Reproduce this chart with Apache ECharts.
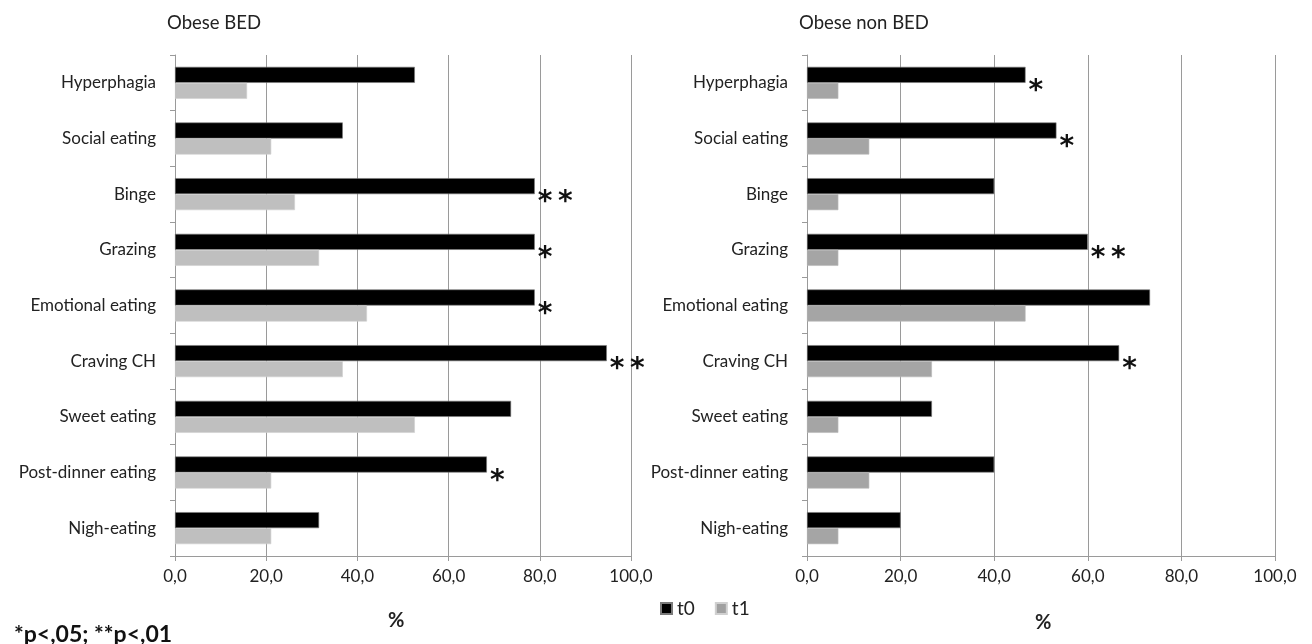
<!DOCTYPE html>
<html>
<head>
<meta charset="utf-8">
<script src="https://cdn.jsdelivr.net/npm/echarts@6/dist/echarts.min.js"></script>
<style>
  html, body { margin: 0; padding: 0; background: #fff; }
  #chart { width: 1312px; height: 644px; }
</style>
</head>
<body>
<div id="chart"></div>
<script>
// Eating behaviours, top to bottom
const categories = ['Hyperphagia', 'Social eating', 'Binge', 'Grazing', 'Emotional eating',
  'Craving CH', 'Sweet eating', 'Post-dinner eating', 'Nigh-eating'];

// Obese BED group (%)
const bedT0 = [52.6, 36.8, 78.9, 78.9, 78.9, 94.7, 73.7, 68.4, 31.6];
const bedT1 = [15.8, 21.1, 26.3, 31.6, 42.1, 36.8, 52.6, 21.1, 21.1];
const bedSig = ['', '', '**', '*', '*', '**', '', '*', ''];

// Obese non BED group (%)
const nonT0 = [46.7, 53.3, 40.0, 60.0, 73.3, 66.7, 26.7, 40.0, 20.0];
const nonT1 = [6.7, 13.3, 6.7, 6.7, 46.7, 26.7, 6.7, 13.3, 6.7];
const nonSig = ['*', '*', '', '**', '', '*', '', '', ''];

const xTicks = [0, 20, 40, 60, 80, 100];

const FONT = 'Lato';
const chart = echarts.init(document.getElementById('chart'), null, { renderer: 'canvas' });

function xAxisFor(idx) {
  return {
    type: 'value', gridIndex: idx, min: xTicks[0], max: xTicks[xTicks.length - 1], interval: 20,
    axisLine: { show: true, lineStyle: { color: '#9a9a9a', width: 1 } },
    axisTick: { show: true, length: 5, lineStyle: { color: '#9a9a9a' } },
    splitLine: { show: true, lineStyle: { color: '#9a9a9a', width: 1 } },
    axisLabel: {
      margin: 12, color: '#222', fontFamily: FONT, fontSize: 17,
      formatter: v => v.toFixed(1).replace('.', ',')
    }
  };
}
function yAxisFor(idx) {
  return {
    type: 'category', gridIndex: idx, data: categories, inverse: true,
    axisLine: { show: true, lineStyle: { color: '#9a9a9a', width: 1 } },
    axisTick: { show: true, length: 5, inside: false, lineStyle: { color: '#9a9a9a' } },
    axisLabel: { margin: 19, color: '#222', fontFamily: FONT, fontSize: 17 },
    splitLine: { show: false }
  };
}
// Significance marks drawn just past the end of each t0 bar
function sigLabel(sig) {
  return {
    show: true, position: 'right', distance: 3, offset: [0, 17],
    fontFamily: 'DejaVu Sans', fontSize: 28, fontWeight: 'bold', color: '#111',
    formatter: p => sig[p.dataIndex].split('').join('\u2009')
  };
}
const barBorder = { borderColor: '#7a7a7a', borderWidth: 0.6 };

chart.setOption({
  animation: false,
  backgroundColor: '#fff',
  title: [
    { text: 'Obese BED', left: 162, top: 9, textStyle: { fontFamily: FONT, fontSize: 18.5, fontWeight: 'normal', color: '#222' } },
    { text: 'Obese non BED', left: 794, top: 9, textStyle: { fontFamily: FONT, fontSize: 18.5, fontWeight: 'normal', color: '#222' } },
    { text: '%', left: 383, top: 606, textStyle: { fontFamily: FONT, fontSize: 20, fontWeight: 'bold', color: '#222' } },
    { text: '%', left: 1030, top: 608, textStyle: { fontFamily: FONT, fontSize: 20, fontWeight: 'bold', color: '#222' } },
    { text: '*p<,05; **p<,01', left: 9, top: 618, textStyle: { fontFamily: FONT, fontSize: 23, fontWeight: 'bold', color: '#111' } }
  ],
  legend: {
    left: 655, top: 594, itemWidth: 11, itemHeight: 11, itemGap: 20, icon: 'rect',
    textStyle: { fontFamily: FONT, fontSize: 19, color: '#222' },
    data: [{ name: 't0', itemStyle: { color: '#000' } }, { name: 't1', itemStyle: { color: '#a0a0a0' } }]
  },
  grid: [
    { left: 175, width: 456, top: 55, height: 501 },
    { left: 807, width: 468, top: 55, height: 501 }
  ],
  xAxis: [xAxisFor(0), xAxisFor(1)],
  yAxis: [yAxisFor(0), yAxisFor(1)],
  series: [
    { name: 't0', type: 'bar', xAxisIndex: 0, yAxisIndex: 0, data: bedT0, barWidth: 16, barGap: '0%',
      itemStyle: Object.assign({ color: '#000' }, barBorder), label: sigLabel(bedSig) },
    { name: 't1', type: 'bar', xAxisIndex: 0, yAxisIndex: 0, data: bedT1, barWidth: 16, barGap: '0%',
      itemStyle: { color: '#bfbfbf', borderColor: '#d0d0d0', borderWidth: 0.6 } },
    { name: 't0', type: 'bar', xAxisIndex: 1, yAxisIndex: 1, data: nonT0, barWidth: 16, barGap: '0%',
      itemStyle: Object.assign({ color: '#000' }, barBorder), label: sigLabel(nonSig) },
    { name: 't1', type: 'bar', xAxisIndex: 1, yAxisIndex: 1, data: nonT1, barWidth: 16, barGap: '0%',
      itemStyle: { color: '#a5a5a5', borderColor: '#bbbbbb', borderWidth: 0.6 } }
  ]
});
</script>
</body>
</html>
